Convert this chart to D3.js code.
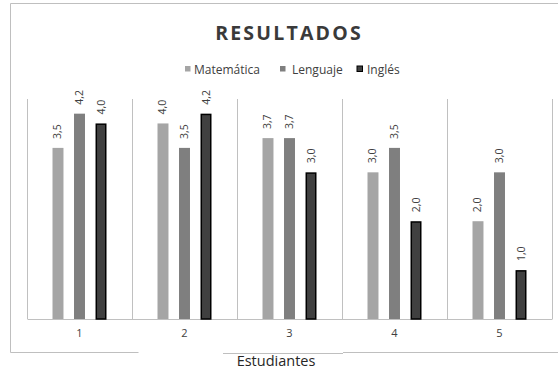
<!DOCTYPE html>
<html>
<head>
<meta charset="utf-8">
<script src="https://cdn.jsdelivr.net/npm/d3@7"></script>
<style>
  html, body { margin: 0; padding: 0; background: #fff; }
  svg { display: block; }
  text { font-family: "Open Sans", "Noto Sans", sans-serif; }
</style>
</head>
<body>
<script>
// Estudiantes y notas por asignatura
const categories = ["1", "2", "3", "4", "5"];
const seriesNames = ["Matemática", "Lenguaje", "Inglés"];
const matematica = [3.5, 4.0, 3.7, 3.0, 2.0];
const lenguaje = [4.2, 3.5, 3.7, 3.5, 3.0];
const ingles = [4.0, 4.2, 3.0, 2.0, 1.0];
const seriesValues = [matematica, lenguaje, ingles];

const W = 558, H = 369;
const colors = { "Matemática": "#a5a5a5", "Lenguaje": "#7f7f7f", "Inglés": "#404040" };

const svg = d3.select("body").append("svg").attr("width", W).attr("height", H);

// Chart frame (bottom edge is broken around the axis title)
const frame = svg.append("g").attr("stroke", "#bfbfbf").attr("stroke-width", 1).attr("fill", "none");
frame.append("path").attr("d", "M138.5,352.5 H10.5 V3.5 H558");
frame.append("path").attr("d", "M223,353.5 H343");
frame.append("path").attr("d", "M343,352.5 H558");

// Title
svg.append("text")
  .attr("x", 289).attr("y", 40)
  .attr("text-anchor", "middle")
  .attr("font-size", 19.5).attr("font-weight", "bold")
  .attr("letter-spacing", 2.2)
  .attr("fill", "#3a3a3a")
  .text("RESULTADOS");

// Legend
const legendItems = [
  { name: "Matemática", sx: 185, tx: 194 },
  { name: "Lenguaje", sx: 280, tx: 292 },
  { name: "Inglés", sx: 357, tx: 367 }
];
const lg = svg.append("g");
legendItems.forEach(it => {
  lg.append("rect")
    .attr("x", it.sx).attr("y", 66).attr("width", 5.5).attr("height", 5.5)
    .attr("fill", colors[it.name])
    .attr("stroke", it.name === "Inglés" ? "#000" : "none").attr("stroke-width", 1);
  lg.append("text")
    .attr("x", it.tx).attr("y", 73.5)
    .attr("font-size", 12).attr("fill", "#404040")
    .text(it.name);
});

// Scales
const x0 = d3.scaleBand().domain(categories).range([27, 552]).padding(0);
const x1 = d3.scaleBand().domain(seriesNames).range([25.5, 79.5]).paddingInner(0.49).paddingOuter(0);
const y = d3.scaleLinear().domain([0, 4.5]).range([319, 99]);

// Category separators
const grid = svg.append("g").attr("stroke", "#c0c0c0").attr("stroke-width", 1);
const edges = categories.map(c => x0(c)).concat([x0.range()[1]]);
edges.forEach(ex => {
  grid.append("line")
    .attr("x1", Math.round(ex) + 0.5).attr("x2", Math.round(ex) + 0.5)
    .attr("y1", y(4.5)).attr("y2", y(0));
});

// Category axis
const xAxis = svg.append("g")
  .attr("transform", `translate(0,${y(0)})`)
  .call(d3.axisBottom(x0).tickSize(0).tickPadding(10));
xAxis.select(".domain").attr("stroke", "#c0c0c0");
xAxis.selectAll("text").attr("font-size", 11).attr("fill", "#404040")
  .attr("font-family", "\"Open Sans\", sans-serif");

// Bars and value labels
const fmt = v => d3.format(".1f")(v).replace(".", ",");
seriesNames.forEach((s, si) => {
  const g = svg.append("g");
  categories.forEach((c, ci) => {
    const v = seriesValues[si][ci];
    const bx = x0(c) + x1(s);
    const isDark = s === "Inglés";
    g.append("rect")
      .attr("x", bx + (isDark ? 0.75 : 0))
      .attr("y", y(v) + (isDark ? 0.75 : 0))
      .attr("width", x1.bandwidth() - (isDark ? 1.5 : 0))
      .attr("height", y(0) - y(v) - (isDark ? 0.75 : 0))
      .attr("fill", colors[s])
      .attr("stroke", isDark ? "#000" : "none")
      .attr("stroke-width", isDark ? 1.5 : 0);
    const lx = bx + x1.bandwidth() / 2 + 3.5;
    const ly = y(v) - 9;
    g.append("text")
      .attr("transform", `translate(${lx},${ly}) rotate(-90)`)
      .attr("font-size", 10.5).attr("fill", "#404040")
      .text(fmt(v));
  });
});

// Axis title
svg.append("text")
  .attr("x", 276).attr("y", 366)
  .attr("text-anchor", "middle")
  .attr("font-size", 14.5).attr("fill", "#262626")
  .text("Estudiantes");
</script>
</body>
</html>
